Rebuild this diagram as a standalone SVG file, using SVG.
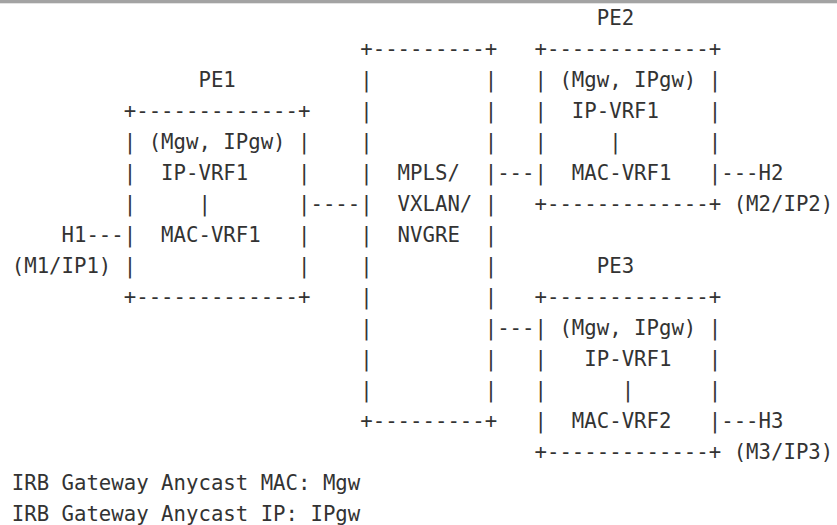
<svg xmlns="http://www.w3.org/2000/svg" width="837" height="525" viewBox="0 0 837 525" xml:space="preserve">
<style>
text { font-family: "DejaVu Sans Mono", "Liberation Mono", monospace; font-size: 20.68px; fill: #333333; white-space: pre; }
</style>
<rect x="0" y="0" width="837" height="525" fill="#ffffff"/>
<rect x="0" y="0" width="837" height="3.3" fill="#a3a3a3"/>
<g id="PE1">
<text x="198.46" y="87.3">PE1</text>
<text x="123.77" y="118.3">+-------------+</text>
<text x="123.77" y="149.3">| (Mgw, IPgw) |</text>
<text x="123.77" y="180.3">|  IP-VRF1    |</text>
<text x="123.77" y="211.3">|     |       |</text>
<text x="123.77" y="242.3">|  MAC-VRF1   |</text>
<text x="123.77" y="273.3">|             |</text>
<text x="123.77" y="304.3">+-------------+</text>
</g>
<g id="core">
<text x="360.27" y="56.3">+---------+</text>
<text x="360.27" y="87.3">|         |</text>
<text x="360.27" y="118.3">|         |</text>
<text x="360.27" y="149.3">|         |</text>
<text x="360.27" y="180.3">|  MPLS/  |</text>
<text x="360.27" y="211.3">|  VXLAN/ |</text>
<text x="360.27" y="242.3">|  NVGRE  |</text>
<text x="360.27" y="273.3">|         |</text>
<text x="360.27" y="304.3">|         |</text>
<text x="360.27" y="335.3">|         |</text>
<text x="360.27" y="366.3">|         |</text>
<text x="360.27" y="397.3">|         |</text>
<text x="360.27" y="428.3">+---------+</text>
</g>
<g id="PE2">
<text x="596.76" y="25.3">PE2</text>
<text x="534.52" y="56.3">+-------------+</text>
<text x="534.52" y="87.3">| (Mgw, IPgw) |</text>
<text x="534.52" y="118.3">|  IP-VRF1    |</text>
<text x="534.52" y="149.3">|     |       |</text>
<text x="534.52" y="180.3">|  MAC-VRF1   |</text>
<text x="534.52" y="211.3">+-------------+</text>
</g>
<g id="PE3">
<text x="596.76" y="273.3">PE3</text>
<text x="534.52" y="304.3">+-------------+</text>
<text x="534.52" y="335.3">| (Mgw, IPgw) |</text>
<text x="534.52" y="366.3">|   IP-VRF1   |</text>
<text x="534.52" y="397.3">|      |      |</text>
<text x="534.52" y="428.3">|  MAC-VRF2   |</text>
<text x="534.52" y="459.3">+-------------+</text>
</g>
<g id="H1">
<text x="61.54" y="242.3">H1</text>
<text x="11.75" y="273.3">(M1/IP1)</text>
</g>
<g id="H2">
<text x="758.57" y="180.3">H2</text>
<text x="733.68" y="211.3">(M2/IP2)</text>
</g>
<g id="H3">
<text x="758.57" y="428.3">H3</text>
<text x="733.68" y="459.3">(M3/IP3)</text>
</g>
<g id="connectors">
<text x="86.43" y="242.3">---</text>
<text x="310.48" y="211.3">----</text>
<text x="497.18" y="180.3">---</text>
<text x="497.18" y="335.3">---</text>
<text x="721.23" y="180.3">---</text>
<text x="721.23" y="428.3">---</text>
</g>
<g id="legend">
<text x="11.75" y="490.3">IRB Gateway Anycast MAC: Mgw</text>
<text x="11.75" y="521.3">IRB Gateway Anycast IP: IPgw</text>
</g>
</svg>
